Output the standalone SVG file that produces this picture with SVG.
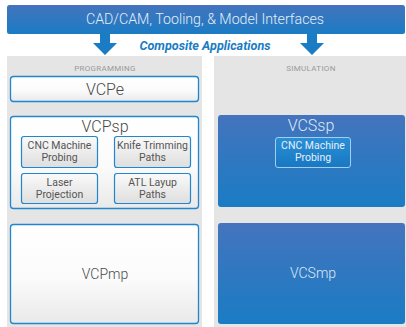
<svg xmlns="http://www.w3.org/2000/svg" width="406" height="327" viewBox="0 0 406 327">
<defs>
<linearGradient id="gBlue" x1="0" y1="0" x2="0" y2="1"><stop offset="0" stop-color="#4474bd"/><stop offset="1" stop-color="#1a7cc4"/></linearGradient>
<linearGradient id="gWhite" x1="0" y1="0" x2="0" y2="1"><stop offset="0" stop-color="#ffffff"/><stop offset="0.55" stop-color="#fbfbfb"/><stop offset="1" stop-color="#e9e9e9"/></linearGradient>
<linearGradient id="gSub" x1="0" y1="0" x2="0" y2="1"><stop offset="0" stop-color="#fafafa"/><stop offset="1" stop-color="#dedede"/></linearGradient>
<linearGradient id="gSubBlue" x1="0" y1="0" x2="0" y2="1"><stop offset="0" stop-color="#2a8fd6"/><stop offset="1" stop-color="#1878c2"/></linearGradient>
</defs>
<style>
text{font-family:Roboto,"Liberation Sans",Arial,sans-serif;text-anchor:middle}
.panel{fill:#e5e5e5}
.wbox{fill:url(#gWhite);stroke:#1f86cf;stroke-width:1.3}
.sbox{fill:url(#gSub);stroke:#1f86cf;stroke-width:1.2}
.bbox{fill:url(#gBlue)}
.big{font-size:16px;fill:#4a4a4a;font-weight:300}
.bigw{font-size:16px;fill:#dfe8f5;font-weight:300}
.mid{font-size:14px;fill:#4a4a4a;font-weight:300}
.midw{font-size:14px;fill:#dfe8f5;font-weight:300}
.sm{font-size:10.5px;fill:#555}
.smw{font-size:10.5px;fill:#e6eef8}
.cap{font-size:8px;fill:#9a9a9a;letter-spacing:0.3px}
.arrow{fill:#1a7cc4}
</style>
<rect width="406" height="327" fill="#ffffff"/>
<g id="banner">
<rect x="7" y="5" width="398" height="29" rx="2.5" class="bbox"/>
<text x="205" y="24" style="font-size:14.2px;fill:#e6edf7;font-weight:300">CAD/CAM, Tooling, &amp; Model Interfaces</text>
</g>
<g id="connectors">
<path class="arrow" d="M100,34 H110 V43 H117 L105,55 L93,43 H100 Z"/>
<path class="arrow" d="M307,34 H317 V43 H324 L312,55 L300,43 H307 Z"/>
</g>
<text x="205" y="50" style="font-size:12.6px;font-weight:bold;font-style:italic;fill:#1a7cc4">Composite Applications</text>
<g id="programming">
<rect x="7" y="56" width="195" height="271" class="panel"/>
<text x="105" y="71" class="cap">PROGRAMMING</text>
</g>
<g id="simulation">
<rect x="214" y="56" width="192" height="271" class="panel"/>
<text x="311" y="71" class="cap">SIMULATION</text>
</g>
<g id="VCPe">
<rect x="10.5" y="76.5" width="188" height="25" rx="3" class="wbox"/>
<text x="105" y="95" class="big">VCPe</text>
</g>
<g id="VCPsp">
<rect x="10.5" y="116.5" width="188" height="92" rx="3" class="wbox"/>
<text x="105" y="132" class="big">VCPsp</text>
</g>
<g id="cnc-probing-p">
<rect x="21.5" y="136.5" width="76" height="31" rx="2.5" class="sbox"/>
<text x="59.5" y="149" class="sm">CNC Machine</text>
<text x="59.5" y="161" class="sm">Probing</text>
</g>
<g id="knife">
<rect x="114.5" y="136.5" width="76" height="31" rx="2.5" class="sbox"/>
<text x="152.5" y="149" class="sm">Knife Trimming</text>
<text x="152.5" y="161" class="sm">Paths</text>
</g>
<g id="laser">
<rect x="21.5" y="173.5" width="76" height="30" rx="2.5" class="sbox"/>
<text x="59.5" y="186" class="sm">Laser</text>
<text x="59.5" y="198" class="sm">Projection</text>
</g>
<g id="atl">
<rect x="114.5" y="173.5" width="76" height="30" rx="2.5" class="sbox"/>
<text x="152.5" y="186" class="sm">ATL Layup</text>
<text x="152.5" y="198" class="sm">Paths</text>
</g>
<g id="VCPmp">
<rect x="10.5" y="224.5" width="188" height="99" rx="3" class="wbox"/>
<text x="105" y="279" class="mid">VCPmp</text>
</g>
<g id="VCSsp">
<rect x="218" y="115" width="187" height="92" rx="3" class="bbox"/>
<text x="311" y="131" class="bigw">VCSsp</text>
</g>
<g id="cnc-probing-s">
<rect x="275.5" y="137.5" width="75" height="30" rx="2.5" fill="url(#gSubBlue)" stroke="#9fd0f2" stroke-width="1"/>
<text x="313" y="149" class="smw">CNC Machine</text>
<text x="313" y="161" class="smw">Probing</text>
</g>
<g id="VCSmp">
<rect x="218" y="223" width="187" height="101" rx="3" class="bbox"/>
<text x="313" y="278" class="midw">VCSmp</text>
</g>
</svg>
